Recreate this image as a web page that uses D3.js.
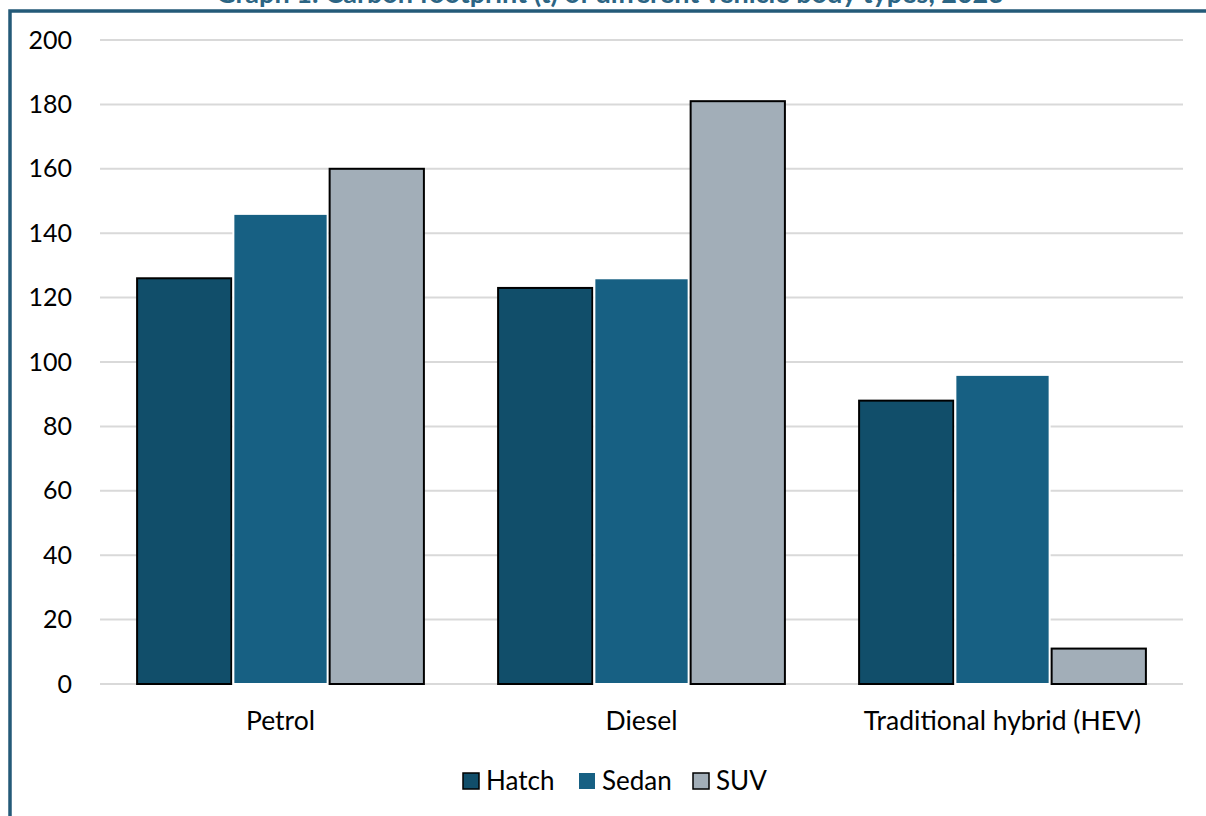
<!DOCTYPE html>
<html>
<head>
<meta charset="utf-8">
<script src="https://cdn.jsdelivr.net/npm/d3@7"></script>
<style>
  html, body { margin: 0; padding: 0; background: #fff; }
  svg { display: block; font-family: "Lato", "Open Sans", sans-serif; }
</style>
</head>
<body>
<svg id="chart" width="1206" height="816"></svg>
<script>
// Carbon footprint (t) by fuel type and vehicle body type
const categories = ["Petrol", "Diesel", "Traditional hybrid (HEV)"];
const seriesNames = ["Hatch", "Sedan", "SUV"];
const hatchValues = [126, 123, 88];
const sedanValues = [146, 126, 96];
const suvValues = [160, 181, 11];
const yTicks = [0, 20, 40, 60, 80, 100, 120, 140, 160, 180, 200];
const titleText = "Graph 1: Carbon footprint (t) of different vehicle body types, 2023";

const seriesValues = [hatchValues, sedanValues, suvValues];
const fills = { Hatch: "#114E6A", Sedan: "#176083", SUV: "#A2AEB8" };
const strokes = { Hatch: "#000", Sedan: "#fff", SUV: "#000" };

const svg = d3.select("#chart");
const W = 1206, H = 816;
const plot = { left: 100, right: 1183, top: 40, bottom: 684 };

// outer frame
svg.append("rect")
  .attr("x", 10).attr("y", 11)
  .attr("width", W + 20).attr("height", H + 20)
  .attr("fill", "none")
  .attr("stroke", "#245A78")
  .attr("stroke-width", 3.5);

// title (sits above the frame)
svg.append("text")
  .attr("x", 610).attr("y", 3)
  .attr("text-anchor", "middle")
  .attr("font-size", 27)
  .attr("font-weight", "bold")
  .attr("fill", "#2C6584")
  .text(titleText);

const y = d3.scaleLinear().domain([0, 200]).range([plot.bottom, plot.top]);
const x0 = d3.scaleBand().domain(categories).range([plot.left, plot.right]).paddingInner(0.2).paddingOuter(0.1);
const x1 = d3.scaleBand().domain(seriesNames).range([0, x0.bandwidth()]).padding(0);

// gridlines
svg.append("g")
  .selectAll("line")
  .data(yTicks)
  .join("line")
  .attr("x1", plot.left).attr("x2", plot.right)
  .attr("y1", d => y(d)).attr("y2", d => y(d))
  .attr("stroke", "#D9D9D9")
  .attr("stroke-width", 2);

// y axis labels
const yAxis = d3.axisLeft(y).tickValues(yTicks).tickSize(0).tickPadding(0);
const gy = svg.append("g").attr("transform", `translate(72,0)`).call(yAxis);
gy.select(".domain").remove();
gy.selectAll("text")
  .attr("font-family", "Lato, 'Open Sans', sans-serif")
  .attr("font-size", 25)
  .attr("fill", "#000");

// x axis labels
const xAxis = d3.axisBottom(x0).tickSize(0).tickPadding(0);
const gx = svg.append("g").attr("transform", `translate(0,${plot.bottom + 27})`).call(xAxis);
gx.select(".domain").remove();
gx.selectAll("text")
  .attr("font-family", "Lato, 'Open Sans', sans-serif")
  .attr("font-size", 26.5)
  .attr("fill", "#000");

// bars
const rows = categories.map((c, i) => ({
  category: c,
  bars: seriesNames.map((s, j) => ({ series: s, value: seriesValues[j][i] }))
}));

svg.append("g")
  .selectAll("g")
  .data(rows)
  .join("g")
  .attr("transform", d => `translate(${x0(d.category)},0)`)
  .selectAll("rect")
  .data(d => d.bars)
  .join("rect")
  .attr("x", d => x1(d.series) + 1)
  .attr("width", x1.bandwidth() - 2)
  .attr("y", d => y(d.value))
  .attr("height", d => y(0) - y(d.value))
  .attr("fill", d => fills[d.series])
  .attr("stroke", d => strokes[d.series])
  .attr("stroke-width", 2);

// legend
const legend = svg.append("g").attr("transform", "translate(462,781)");
const legendX = [0, 116, 230];
seriesNames.forEach((s, i) => {
  const g = legend.append("g").attr("transform", `translate(${legendX[i]},0)`);
  g.append("rect")
    .attr("x", 1).attr("y", -8)
    .attr("width", 16).attr("height", 16)
    .attr("fill", fills[s])
    .attr("stroke", s === "Sedan" ? "none" : "#000")
    .attr("stroke-width", 1.5);
  g.append("text")
    .attr("x", 24).attr("y", 9)
    .attr("font-size", 26)
    .attr("fill", "#000")
    .text(s);
});
</script>
</body>
</html>
